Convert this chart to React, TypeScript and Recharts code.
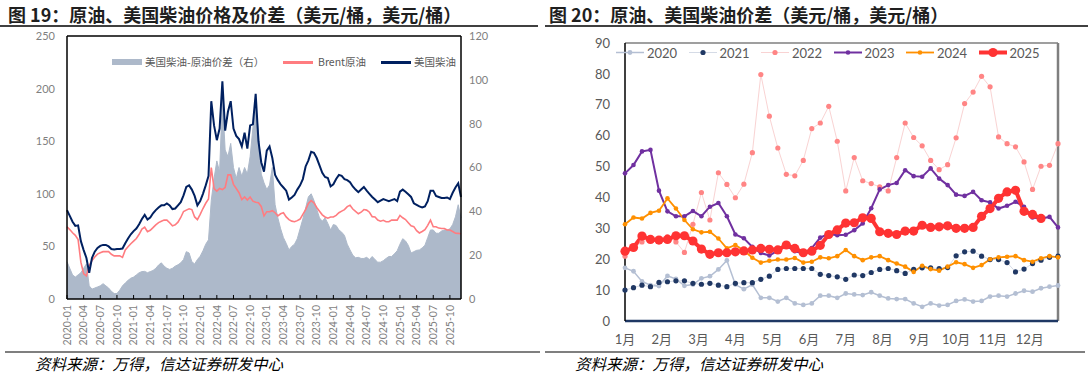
import React from "react";
import {
  Area,
  ComposedChart,
  Line,
  LineChart,
  ReferenceLine,
  XAxis,
  YAxis,
} from "recharts";

// 图19：半月采样（每月1日、16日），2020-01-01 起
const dieselPrice = [
  84.5, 79, 73.5, 69.5, 70, 55, 46.5, 39, 25, 39, 45, 48.5, 50.5, 51.4, 51.4, 50, 47.5, 47, 47.5, 47.5, 48, 53, 57.5, 61.5,
  64.5, 67, 71, 76, 80, 75.5, 77.5, 81.5, 84.5, 87, 89, 89, 90.8, 89, 85.5, 86, 89, 92, 98.5, 106.6, 108, 104, 98, 89,
  93, 100, 108, 117, 188, 165, 151, 162, 207, 160, 178, 188, 162, 155, 152, 145, 158, 143, 165, 166, 195, 150, 130, 121,
  141, 145, 134, 118, 113, 109, 106, 103, 94.5, 96.5, 99, 104, 108, 114, 126, 131.8, 140, 139, 134, 127, 120, 116, 115, 107,
  109, 114, 118, 117, 114, 113, 111, 107, 104, 101.5, 104, 106.5, 103, 100, 97, 94.5, 92, 93.5, 95, 94, 93, 94, 95, 93,
  102, 104, 102, 99.5, 97, 91, 89.5, 88, 87, 88, 93, 103, 103, 98, 97, 96, 96, 96.5, 95, 101, 106, 110, 97,
];
const brentPrice = [
  68.7, 66, 63, 60.5, 56.5, 35, 24, 22, 32, 36.5, 40, 42.7, 44, 45, 45, 45, 42.5, 41, 41, 41, 39.5, 46.7, 49.6, 52.5,
  55, 57.5, 61.5, 66.4, 68.2, 64, 65.3, 67.8, 70.5, 72.6, 73.9, 75, 75, 72.5, 69.5, 70.5, 73, 77.5, 83.2, 84.5, 85.8, 85, 78, 75.5,
  80.5, 86, 91, 95, 125, 105, 102.5, 105, 104, 106, 118, 118, 109, 105, 101, 94.5, 97, 94, 97, 93, 92, 91.5, 88, 79,
  83, 83, 84, 82, 79, 81, 82, 78, 75.5, 74, 73.5, 74.5, 76, 80.5, 85, 90.8, 93.5, 91.5, 87, 83.5, 80, 78, 76.8, 78,
  78, 79.5, 82, 83.5, 85, 87.8, 89.2, 85.5, 83.2, 81, 82.5, 85, 84.5, 82.5, 78.3, 78, 75, 74, 74.8, 73.5, 73.5, 75, 75, 75,
  79.5, 77.2, 75.5, 72.5, 69.5, 68.8, 65, 62.8, 64.2, 66, 70, 75, 68.7, 68.7, 67.4, 67, 67, 65.6, 65.6, 64.2, 62.5, 62.4, 62,
];
const dieselSpread = [
  17, 14, 11, 10, 11, 12, 14, 16, 6, 4.5, 5, 5.5, 6, 7, 6, 5, 3.5, 2.5, 2.5, 4, 6, 7.3, 8.5, 9.5,
  10, 11, 12, 12.5, 12.6, 12, 12.5, 13, 14, 15.5, 16.5, 15, 14, 13.5, 14, 15, 15.6, 16.5, 18, 21.6, 21, 17, 16, 18,
  19.5, 22, 25, 27, 45, 55, 63, 58, 92, 68, 65, 71, 60, 55, 60, 56, 60, 57, 65, 78, 89, 76, 57, 53,
  50, 52, 60, 43, 37, 32, 28, 25.4, 22.4, 24, 25, 27.5, 32, 36.5, 41.5, 46.6, 48, 45, 41, 37, 35.5, 37, 34.5, 31.5,
  34, 33.5, 31.5, 30.5, 29, 25, 22.4, 20, 18.8, 19, 18.5, 18.5, 19, 18, 19.4, 18, 16.8, 16.8, 17.5, 18.5, 19.4, 19.4, 20.6, 22,
  25, 27.5, 26.5, 24.5, 21, 21.6, 22.2, 22.4, 23.3, 24.5, 28, 31.5, 31.5, 30, 30, 31, 31.5, 31.5, 32, 34, 37.5, 43, 37,
];

const halfMonthDates: string[] = [];
for (let y = 2020; y <= 2025; y++) {
  for (let m = 1; m <= 12; m++) {
    const mm = String(m).padStart(2, "0");
    halfMonthDates.push(`${y}-${mm}-01`, `${y}-${mm}-16`);
  }
}

const quarterLabels = [
  "2020-01", "2020-04", "2020-07", "2020-10", "2021-01", "2021-04", "2021-07", "2021-10",
  "2022-01", "2022-04", "2022-07", "2022-10", "2023-01", "2023-04", "2023-07", "2023-10",
  "2024-01", "2024-04", "2024-07", "2024-10", "2025-01", "2025-04", "2025-07", "2025-10",
];

// 图20：周度价差
const y2020 = [17.2, 16.1, 12.8, 11.6, 11.3, 14.6, 13.6, 11.4, 11.8, 13.8, 14.5, 16.7, 19.6, 11.8, 10.3, 11.8, 7.5, 7.5, 6.3, 7.5, 5.7, 5.2, 5.7, 8.2, 8.2, 7.5, 8.9, 8.6, 8.4, 9.3, 8.2, 7.3, 7.1, 7.1, 5.7, 4.6, 5.7, 5.0, 5.2, 6.5, 7.0, 6.3, 6.5, 7.9, 8.2, 7.9, 8.9, 9.8, 9.5, 10.6, 11.1, 11.5];
const y2021 = [10.0, 10.8, 11.6, 11.1, 12.5, 12.7, 13.0, 13.0, 12.2, 11.9, 12.2, 11.6, 11.1, 12.2, 12.4, 12.4, 13.5, 14.5, 16.7, 17.0, 17.0, 17.0, 17.0, 15.1, 14.7, 14.3, 13.5, 14.9, 14.7, 15.7, 16.7, 17.0, 16.3, 15.4, 16.7, 17.2, 17.2, 17.0, 17.3, 21.1, 22.4, 22.6, 21.0, 19.9, 19.9, 18.9, 15.9, 16.8, 18.6, 19.7, 20.6, 21.0];
const y2022 = [21.0, 23.5, 25.6, 26.5, 26.5, 27.3, 25.6, 22.2, 31.3, 41.6, 32.7, 48.0, 44.2, 39.9, 44.3, 54.5, 79.8, 66.3, 56.0, 47.5, 47.0, 52.0, 62.3, 64.1, 69.5, 58.2, 42.1, 52.9, 45.4, 44.5, 43.4, 42.1, 52.9, 64.1, 59.4, 56.7, 52.0, 49.0, 50.6, 59.3, 70.4, 74.1, 79.2, 75.8, 59.6, 57.4, 56.4, 51.5, 42.6, 50.1, 50.4, 57.4];
const y2023 = [47.8, 50.5, 54.9, 55.4, 42.2, 35.5, 33.9, 33.9, 35.6, 33.9, 37.0, 38.2, 33.9, 28.0, 26.8, 24.0, 22.0, 21.2, 22.8, 24.3, 22.6, 21.8, 23.6, 27.0, 28.2, 27.8, 27.9, 29.4, 31.6, 36.5, 42.6, 44.0, 44.7, 48.8, 46.9, 46.7, 49.4, 46.1, 44.0, 40.9, 40.5, 41.8, 39.1, 38.4, 36.4, 37.3, 38.6, 37.0, 33.5, 33.2, 33.7, 30.3];
const y2024 = [31.3, 33.5, 33.2, 35.0, 35.7, 39.7, 36.4, 32.7, 29.7, 28.7, 28.9, 26.7, 23.5, 24.6, 22.8, 20.5, 18.9, 19.5, 19.9, 19.9, 20.4, 18.9, 19.2, 20.6, 20.3, 21.0, 23.0, 21.0, 19.7, 20.6, 21.0, 19.7, 18.6, 17.6, 15.9, 17.9, 16.8, 16.3, 17.6, 19.0, 18.4, 17.2, 18.1, 20.0, 20.6, 20.8, 21.0, 19.7, 19.2, 20.3, 21.0, 20.6];
const y2025 = [22.6, 23.8, 27.5, 26.4, 26.2, 26.4, 27.6, 27.6, 25.9, 23.3, 21.6, 22.1, 22.1, 22.4, 22.7, 23.0, 23.5, 23.2, 23.0, 24.6, 23.5, 22.1, 22.6, 24.5, 28.0, 29.5, 31.7, 31.8, 33.4, 33.2, 28.9, 28.4, 28.0, 29.1, 29.1, 31.0, 30.3, 30.5, 30.8, 30.0, 30.0, 30.3, 33.9, 36.4, 39.7, 41.8, 42.3, 35.5, 34.5, 33.2];

const monthLabels = ["1月", "2月", "3月", "4月", "5月", "6月", "7月", "8月", "9月", "10月", "11月", "12月"];

const monthIndex = (d: string) => {
  const [y, m, day] = d.split("-").map(Number);
  return (y - 2020) * 12 + (m - 1) + (day - 1) / 30;
};

const leftRows = dieselPrice.map((v, i) => ({
  t: monthIndex(halfMonthDates[i]),
  diesel: v,
  brent: brentPrice[i],
  spread: dieselSpread[i],
}));
const quarterTicks = quarterLabels.map((q) => monthIndex(q + "-01"));

const weekRows = y2020.map((_, i) => ({
  w: i,
  y2020: y2020[i],
  y2021: y2021[i],
  y2022: y2022[i],
  y2023: y2023[i],
  y2024: y2024[i],
  y2025: i < y2025.length ? y2025[i] : null,
}));
const monthTicks = monthLabels.map((_, i) => (i * 52) / 12);

const yearSeries = [
  { key: "y2020", name: "2020", line: "#B4BFD3", dotColor: "#B4BFD3", width: 1.5, r: 2.4 },
  { key: "y2021", name: "2021", line: "#D5DBE6", dotColor: "#203864", width: 1, r: 2.6 },
  { key: "y2022", name: "2022", line: "#F9D3D3", dotColor: "#FF8585", width: 1, r: 2.6 },
  { key: "y2023", name: "2023", line: "#7030A0", dotColor: "#7030A0", width: 2, r: 2.3 },
  { key: "y2024", name: "2024", line: "#FF9000", dotColor: "#FF9000", width: 1.8, r: 2.3 },
  { key: "y2025", name: "2025", line: "#FF3333", dotColor: "#FF3333", width: 4, r: 4.6 },
];

const FONT = "Lato, 'Noto Sans CJK SC', sans-serif";
const CJK = "'Noto Sans CJK SC', sans-serif";

function RotTick(props: any) {
  const { x, y, payload } = props;
  const idx = quarterTicks.indexOf(payload.value);
  return (
    <g transform={`translate(${x},${y})`}>
      <text transform="rotate(-90)" textAnchor="end" dy="0.35em" fontSize={10.5} fill="#7F7F7F" fontFamily={FONT}>
        {quarterLabels[idx]}
      </text>
    </g>
  );
}

function LeftLegend() {
  const txt = { position: "absolute" as const, top: 54, fontSize: 10.5, color: "#595959", fontFamily: CJK, whiteSpace: "nowrap" as const, lineHeight: "16px" };
  return (
    <>
      <div style={{ position: "absolute", left: 112, top: 59, width: 30, height: 6, background: "#ADB9CA" }} />
      <div style={{ ...txt, left: 145 }}>美国柴油-原油价差（右）</div>
      <div style={{ position: "absolute", left: 283, top: 61, width: 30, height: 2.5, background: "#FF7C80" }} />
      <div style={{ ...txt, left: 318 }}>Brent原油</div>
      <div style={{ position: "absolute", left: 381, top: 61, width: 30, height: 2.5, background: "#002060" }} />
      <div style={{ ...txt, left: 414 }}>美国柴油</div>
    </>
  );
}

function RightLegend() {
  return (
    <>
      {yearSeries.map((s, i) => {
        const left = 616 + i * 72.5;
        return (
          <div key={s.key} style={{ position: "absolute", left, top: 44, height: 17, display: "flex", alignItems: "center" }}>
            <svg width={28} height={17}>
              <line x1={0} y1={8.5} x2={28} y2={8.5} stroke={s.line} strokeWidth={s.width} />
              <circle cx={14} cy={8.5} r={s.r} fill={s.dotColor} />
            </svg>
            <span style={{ marginLeft: 3, fontSize: 13, color: "#595959", fontFamily: FONT }}>{s.name}</span>
          </div>
        );
      })}
    </>
  );
}

export default function App() {
  const title = { position: "absolute" as const, top: 3, fontSize: 18, fontWeight: 700, color: "#1F1F1F", fontFamily: CJK, whiteSpace: "nowrap" as const, lineHeight: "22px" };
  const source = { position: "absolute" as const, top: 353, fontSize: 15.5, fontStyle: "italic" as const, color: "#000", fontFamily: CJK, whiteSpace: "nowrap" as const, lineHeight: "20px" };
  return (
    <div style={{ position: "absolute", left: 0, top: 0, width: 1088, height: 377, background: "#fff", overflow: "hidden" }}>
      <div style={{ ...title, left: 8 }}>图 19：原油、美国柴油价格及价差（美元/桶，美元/桶）</div>
      <div style={{ ...title, left: 549 }}>图 20：原油、美国柴油价差（美元/桶，美元/桶）</div>
      <div style={{ position: "absolute", left: 0, top: 25, width: 538, height: 2, background: "#404040" }} />
      <div style={{ position: "absolute", left: 545, top: 25, width: 543, height: 2, background: "#404040" }} />

      <div style={{ position: "absolute", left: 0, top: 0 }}>
        <ComposedChart width={540} height={350} data={leftRows} margin={{ top: 36, right: 39, bottom: 6, left: 0 }}>
          <XAxis
            type="number"
            dataKey="t"
            domain={[0, 71]}
            ticks={quarterTicks}
            interval={0}
            tick={<RotTick />}
            tickSize={-4}
            tickMargin={10}
            tickLine={{ stroke: "#000" }}
            axisLine={{ stroke: "#000", strokeWidth: 1.5 }}
            height={45}
          />
          <YAxis
            yAxisId="left"
            domain={[0, 250]}
            ticks={[0, 50, 100, 150, 200, 250]}
            width={67}
            tickLine={false}
            tickMargin={6}
            axisLine={{ stroke: "#000", strokeWidth: 1.5 }}
            tick={{ fill: "#7F7F7F", fontSize: 11, fontFamily: FONT }}
          />
          <YAxis
            yAxisId="right"
            orientation="right"
            domain={[0, 120]}
            ticks={[0, 20, 40, 60, 80, 100, 120]}
            width={40}
            tickLine={false}
            tickMargin={2}
            axisLine={{ stroke: "#000", strokeWidth: 1.5 }}
            tick={{ fill: "#7F7F7F", fontSize: 11, fontFamily: FONT }}
          />
          <Area yAxisId="right" type="linear" dataKey="spread" fill="#ADB9CA" fillOpacity={1} stroke="#ADB9CA" strokeWidth={1} isAnimationActive={false} />
          <Line yAxisId="left" type="linear" dataKey="brent" stroke="#FF7C80" strokeWidth={1.6} dot={false} isAnimationActive={false} />
          <Line yAxisId="left" type="linear" dataKey="diesel" stroke="#002060" strokeWidth={2} dot={false} isAnimationActive={false} />
          <ReferenceLine yAxisId="left" y={250} stroke="#000" strokeWidth={1.5} />
        </ComposedChart>
      </div>
      <LeftLegend />

      <div style={{ position: "absolute", left: 540, top: 0 }}>
        <LineChart width={548} height={360} data={weekRows} margin={{ top: 43, right: 30, bottom: 9, left: 0 }}>
          <XAxis
            type="number"
            dataKey="w"
            domain={[0, 51]}
            ticks={monthTicks}
            interval={0}
            tickFormatter={(_: number, i: number) => monthLabels[i]}
            tickLine={false}
            tickMargin={8}
            axisLine={{ stroke: "#1F3864", strokeWidth: 2.5 }}
            tick={{ fill: "#595959", fontSize: 13, fontFamily: FONT }}
            height={30}
          />
          <YAxis
            domain={[0, 90]}
            ticks={[0, 10, 20, 30, 40, 50, 60, 70, 80, 90]}
            width={85}
            tickLine={false}
            tickMargin={9}
            axisLine={{ stroke: "#000", strokeWidth: 1.5 }}
            tick={{ fill: "#595959", fontSize: 13, fontFamily: FONT }}
          />
          <ReferenceLine y={90} stroke="#7F7F7F" strokeWidth={1.5} />
          <ReferenceLine x={51} stroke="#7F7F7F" strokeWidth={2.5} />
          {yearSeries.map((s) => (
            <Line
              key={s.key}
              type="linear"
              dataKey={s.key}
              stroke={s.line}
              strokeWidth={s.width}
              dot={{ r: s.r, fill: s.dotColor, stroke: s.dotColor, strokeWidth: 0 }}
              activeDot={false}
              isAnimationActive={false}
            />
          ))}
        </LineChart>
      </div>
      <RightLegend />

      <div style={{ position: "absolute", left: 5, top: 351, width: 535, height: 1.5, background: "#7F7F7F" }} />
      <div style={{ position: "absolute", left: 545, top: 351, width: 540, height: 1.5, background: "#7F7F7F" }} />
      <div style={{ ...source, left: 35 }}>资料来源：万得，信达证券研发中心</div>
      <div style={{ ...source, left: 575 }}>资料来源：万得，信达证券研发中心</div>
    </div>
  );
}
